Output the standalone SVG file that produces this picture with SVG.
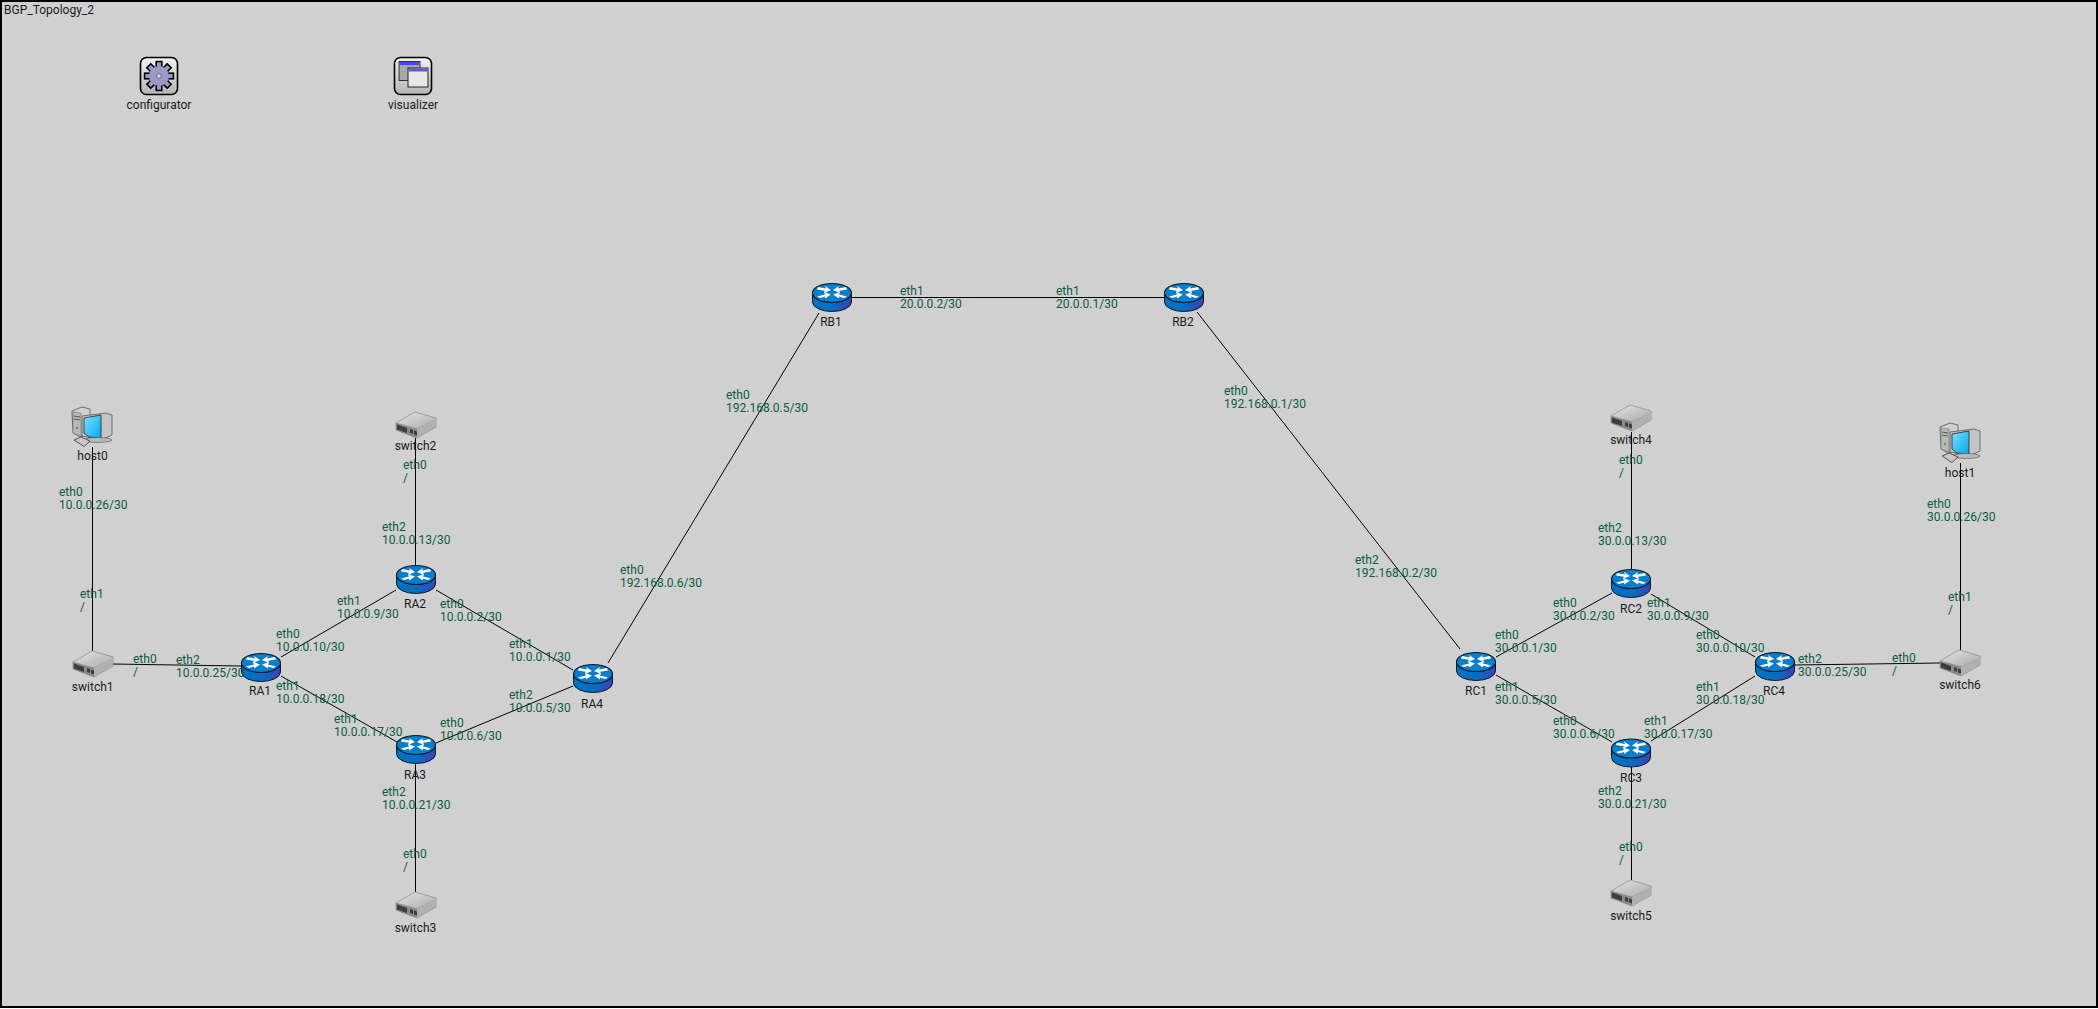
<svg xmlns="http://www.w3.org/2000/svg" xmlns:xlink="http://www.w3.org/1999/xlink" width="2098" height="1009" viewBox="0 0 2098 1009">
<style>
text{font-family:Roboto,"Noto Sans","DejaVu Sans",sans-serif;font-size:12px}
.n{fill:#1a1a1a;text-anchor:middle}
.l{fill:#0a5c40}
.c line{stroke:#000;stroke-width:1;fill:none}
</style>
<defs>
<linearGradient id="rb" x1="0" x2="1" y1="0" y2="0"><stop offset="0" stop-color="#0072c4"/><stop offset=".55" stop-color="#0a6cc0"/><stop offset="1" stop-color="#3a42b4"/></linearGradient>
<linearGradient id="st" x1="0" x2="1" y1="0" y2="1"><stop offset="0" stop-color="#e6e6e6"/><stop offset="1" stop-color="#a8a8a8"/></linearGradient>
<linearGradient id="btn" x1="0" x2="0" y1="0" y2="1"><stop offset="0" stop-color="#f2f2f2"/><stop offset="1" stop-color="#b4b4b4"/></linearGradient>
<linearGradient id="scr" x1="0" x2="1" y1="0" y2="1"><stop offset="0" stop-color="#7fe0ff"/><stop offset="1" stop-color="#00a8e8"/></linearGradient>
<g id="router">
<path d="M-19.5-4V5A19.5 9.500 0 0 0 19.5 5V-4Z" fill="url(#rb)" stroke="#0c1a28" stroke-width="1"/>
<ellipse cx="0" cy="-4" rx="19.5" ry="9.500" fill="#0a7ecb" stroke="#0c1a28" stroke-width="1.2"/>
<path d="M-14-10L-6-8.500-7-11-1-7-8-4-7.200-6.200-15-7.500ZM14-10L6-8.500 7-11 1-7 8-4 7.200-6.200 15-7.500ZM-15-.5L-7-2.500-8-5-1-2.500-7 1.500-6.800-.5-12 1ZM15-.5L7-2.500 8-5 1-2.500 7 1.500 6.800-.5 12 1Z" fill="#fff"/>
</g>
<g id="switch">
<path d="M-20-2V5L1 13 20 2V-6L1 4Z" fill="#8a8a8a" stroke="#777" stroke-width=".6"/>
<path d="M-20-2L-1-13 20-7V-5L1 4Z" fill="url(#st)" stroke="#8a8a8a" stroke-width=".7"/>
<path d="M1 4L20-6V2L1 13Z" fill="#b0b0b0"/>
<path d="M-19-.5L-9 3V8L-19 4.5ZM-6 4L-3 5V9L-6 8ZM-2 5.500L1 6.500V10.500L-2 9.500Z" fill="#3c3c3c"/>
</g>
<g id="host">
<path d="M-20-16L-10-20-2-18V7L-12 10-19 6Z" fill="#d0d0d0" stroke="#555" stroke-width=".8"/>
<path d="M-19-15L-11-14V9L-19 6Z" fill="#b8b8b8" stroke="#666" stroke-width=".5"/>
<path d="M-18-11L-12-10M-18-8L-12-7" stroke="#555" stroke-width="1"/>
<circle cx="-15" cy="1" r="1.200" fill="#2fae3a"/>
<path d="M-10-11L14-14 20-12V8L9 13-10 9Z" fill="#c4c4c4" stroke="#555" stroke-width=".8"/>
<path d="M-8-9L9-12V11L-3 10-8 6Z" fill="url(#scr)" stroke="#222" stroke-width=".8"/>
<ellipse cx="6" cy="13" rx="14" ry="2.500" fill="#b8b8b8" stroke="#555" stroke-width=".6"/>
<path d="M-18 13L-11 10-2 14-8 19.500Z" fill="#c8c8c8" stroke="#333" stroke-width=".8"/>
</g>
<rect id="tooth" x="-2.8" y="-14.400" width="5.600" height="6" fill="#9c98c8" stroke="#000" stroke-width="1.600"/>
</defs>
<rect x="1" y="1" width="2096" height="1006" fill="#d0d0d0" stroke="#000" stroke-width="2"/>
<text x="4" y="14" fill="#1a1a1a">BGP_Topology_2</text>
<g id="connectors" class="c">
<line x1="92.5" y1="447" x2="92.5" y2="651"/>
<line x1="113" y1="664" x2="241" y2="666"/>
<line x1="281" y1="657" x2="396" y2="590"/>
<line x1="281" y1="676" x2="397" y2="742"/>
<line x1="415.5" y1="438" x2="415.5" y2="565"/>
<line x1="415.5" y1="764" x2="415.5" y2="892"/>
<line x1="436" y1="590" x2="573" y2="670"/>
<line x1="436" y1="743" x2="573" y2="686"/>
<line x1="608" y1="663" x2="819" y2="313"/>
<line x1="852" y1="297.500" x2="1164" y2="297.500"/>
<line x1="1197" y1="312" x2="1460" y2="649"/>
<line x1="1496" y1="657" x2="1612" y2="593"/>
<line x1="1496" y1="675" x2="1612" y2="742"/>
<line x1="1651" y1="594" x2="1755" y2="657"/>
<line x1="1651" y1="741" x2="1755" y2="676"/>
<line x1="1631.500" y1="432" x2="1631.500" y2="569"/>
<line x1="1631.500" y1="767" x2="1631.500" y2="880"/>
<line x1="1795" y1="665" x2="1940" y2="663"/>
<line x1="1960.500" y1="463" x2="1960.500" y2="650"/>
</g>
<g id="configurator"><rect x="140.500" y="57.500" width="37" height="37" rx="6" fill="url(#btn)" stroke="#000" stroke-width="1.600"/>
<g transform="translate(159 76)"><use xlink:href="#tooth"/><use xlink:href="#tooth" transform="rotate(45)"/><use xlink:href="#tooth" transform="rotate(90)"/><use xlink:href="#tooth" transform="rotate(135)"/><use xlink:href="#tooth" transform="rotate(180)"/><use xlink:href="#tooth" transform="rotate(225)"/><use xlink:href="#tooth" transform="rotate(270)"/><use xlink:href="#tooth" transform="rotate(315)"/>
<circle r="10" fill="#9c98c8"/><circle r="2.300" fill="#d8d8e8" stroke="#555" stroke-width=".8"/></g>
<text class="n" x="159" y="109">configurator</text></g>
<g id="visualizer"><rect x="394.500" y="57.500" width="37" height="37" rx="6" fill="url(#btn)" stroke="#000" stroke-width="1.600"/>
<rect x="399" y="61.500" width="21" height="19" fill="#a8a8a8" stroke="#333"/><rect x="399.500" y="62" width="20" height="3" fill="#4a4ae0"/>
<rect x="408" y="68" width="20" height="19" fill="#e8e8e8" stroke="#222"/><rect x="408.500" y="68.500" width="19" height="3" fill="#5a5ad8"/>
<text class="n" x="413" y="109">visualizer</text></g>
<g id="host0"><use xlink:href="#host" x="92" y="427"/><text class="n" x="92.500" y="460">host0</text></g>
<g id="host1"><use xlink:href="#host" x="1960" y="443"/><text class="n" x="1960" y="477">host1</text></g>
<g id="switch1"><use xlink:href="#switch" x="93" y="664"/><text class="n" x="92.700" y="691">switch1</text></g>
<g id="switch2"><use xlink:href="#switch" x="416" y="425"/><text class="n" x="415.500" y="450">switch2</text></g>
<g id="switch3"><use xlink:href="#switch" x="416" y="905"/><text class="n" x="415.500" y="932">switch3</text></g>
<g id="switch4"><use xlink:href="#switch" x="1631" y="418"/><text class="n" x="1631" y="444">switch4</text></g>
<g id="switch5"><use xlink:href="#switch" x="1631" y="893"/><text class="n" x="1631" y="920">switch5</text></g>
<g id="switch6"><use xlink:href="#switch" x="1960" y="663"/><text class="n" x="1960" y="689">switch6</text></g>
<g id="RA1"><use xlink:href="#router" x="261" y="667"/><text class="n" x="260" y="695">RA1</text></g>
<g id="RA2"><use xlink:href="#router" x="416" y="579"/><text class="n" x="415" y="608">RA2</text></g>
<g id="RA3"><use xlink:href="#router" x="416" y="749"/><text class="n" x="415" y="779">RA3</text></g>
<g id="RA4"><use xlink:href="#router" x="593" y="678"/><text class="n" x="592" y="708">RA4</text></g>
<g id="RB1"><use xlink:href="#router" x="832" y="297"/><text class="n" x="831" y="326">RB1</text></g>
<g id="RB2"><use xlink:href="#router" x="1184" y="297"/><text class="n" x="1183" y="326">RB2</text></g>
<g id="RC1"><use xlink:href="#router" x="1476" y="666"/><text class="n" x="1476" y="695">RC1</text></g>
<g id="RC2"><use xlink:href="#router" x="1631" y="583"/><text class="n" x="1631" y="613">RC2</text></g>
<g id="RC3"><use xlink:href="#router" x="1631" y="752.500"/><text class="n" x="1631" y="782">RC3</text></g>
<g id="RC4"><use xlink:href="#router" x="1775" y="666"/><text class="n" x="1774" y="695">RC4</text></g>
<g id="labels" class="l">
<text x="59" y="496">eth0<tspan x="59" dy="13">10.0.0.26/30</tspan></text>
<text x="80" y="598">eth1<tspan x="80" dy="13">/</tspan></text>
<text x="133" y="663">eth0<tspan x="133" dy="13">/</tspan></text>
<text x="176" y="664">eth2<tspan x="176" dy="13">10.0.0.25/30</tspan></text>
<text x="276" y="638">eth0<tspan x="276" dy="13">10.0.0.10/30</tspan></text>
<text x="337" y="605">eth1<tspan x="337" dy="13">10.0.0.9/30</tspan></text>
<text x="276" y="690">eth1<tspan x="276" dy="13">10.0.0.18/30</tspan></text>
<text x="334" y="723">eth1<tspan x="334" dy="13">10.0.0.17/30</tspan></text>
<text x="440" y="608">eth0<tspan x="440" dy="13">10.0.0.2/30</tspan></text>
<text x="509" y="648">eth1<tspan x="509" dy="13">10.0.0.1/30</tspan></text>
<text x="509" y="699">eth2<tspan x="509" dy="13">10.0.0.5/30</tspan></text>
<text x="440" y="727">eth0<tspan x="440" dy="13">10.0.0.6/30</tspan></text>
<text x="382" y="796">eth2<tspan x="382" dy="13">10.0.0.21/30</tspan></text>
<text x="403" y="858">eth0<tspan x="403" dy="13">/</tspan></text>
<text x="382" y="531">eth2<tspan x="382" dy="13">10.0.0.13/30</tspan></text>
<text x="403" y="469">eth0<tspan x="403" dy="13">/</tspan></text>
<text x="620" y="574">eth0<tspan x="620" dy="13">192.168.0.6/30</tspan></text>
<text x="726" y="399">eth0<tspan x="726" dy="13">192.168.0.5/30</tspan></text>
<text x="900" y="295">eth1<tspan x="900" dy="13">20.0.0.2/30</tspan></text>
<text x="1056" y="295">eth1<tspan x="1056" dy="13">20.0.0.1/30</tspan></text>
<text x="1224" y="395">eth0<tspan x="1224" dy="13">192.168.0.1/30</tspan></text>
<text x="1355" y="564">eth2<tspan x="1355" dy="13">192.168.0.2/30</tspan></text>
<text x="1619" y="464">eth0<tspan x="1619" dy="13">/</tspan></text>
<text x="1598" y="532">eth2<tspan x="1598" dy="13">30.0.0.13/30</tspan></text>
<text x="1553" y="607">eth0<tspan x="1553" dy="13">30.0.0.2/30</tspan></text>
<text x="1495" y="639">eth0<tspan x="1495" dy="13">30.0.0.1/30</tspan></text>
<text x="1495" y="691">eth1<tspan x="1495" dy="13">30.0.0.5/30</tspan></text>
<text x="1553" y="725">eth0<tspan x="1553" dy="13">30.0.0.6/30</tspan></text>
<text x="1644" y="725">eth1<tspan x="1644" dy="13">30.0.0.17/30</tspan></text>
<text x="1647" y="607">eth1<tspan x="1647" dy="13">30.0.0.9/30</tspan></text>
<text x="1696" y="639">eth0<tspan x="1696" dy="13">30.0.0.10/30</tspan></text>
<text x="1696" y="691">eth1<tspan x="1696" dy="13">30.0.0.18/30</tspan></text>
<text x="1798" y="663">eth2<tspan x="1798" dy="13">30.0.0.25/30</tspan></text>
<text x="1892" y="662">eth0<tspan x="1892" dy="13">/</tspan></text>
<text x="1948" y="601">eth1<tspan x="1948" dy="13">/</tspan></text>
<text x="1927" y="508">eth0<tspan x="1927" dy="13">30.0.0.26/30</tspan></text>
<text x="1598" y="795">eth2<tspan x="1598" dy="13">30.0.0.21/30</tspan></text>
<text x="1619" y="851">eth0<tspan x="1619" dy="13">/</tspan></text>
</g>
</svg>
